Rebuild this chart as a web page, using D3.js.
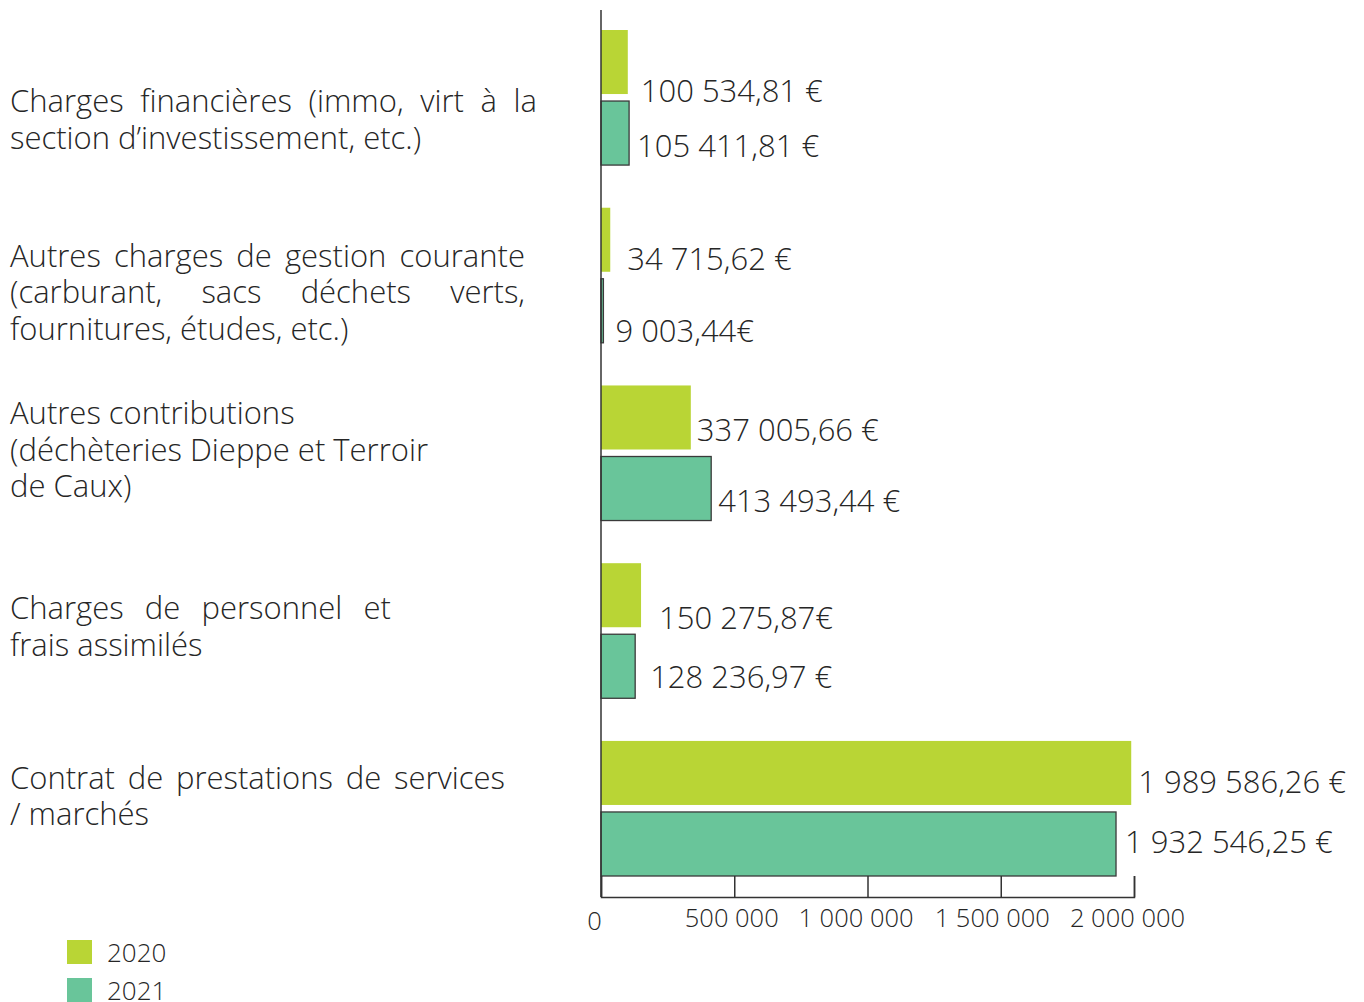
<!DOCTYPE html>
<html>
<head>
<meta charset="utf-8">
<script src="https://cdn.jsdelivr.net/npm/d3@7"></script>
<style>
  body { margin: 0; background: #fff; }
  text { font-family: "Open Sans", "Noto Sans", sans-serif; font-weight: 300; fill: #262626; }
</style>
</head>
<body>
<svg width="1364" height="1002"></svg>
<script>
// ~~~~~~ DATA ~~~~~~
var categories = [
  ["Charges financières (immo, virt à la", "section d’investissement, etc.)"],
  ["Autres charges de gestion courante", "(carburant, sacs déchets verts,", "fournitures, études, etc.)"],
  ["Autres contributions", "(déchèteries Dieppe et Terroir", "de Caux)"],
  ["Charges de personnel et", "frais assimilés"],
  ["Contrat de prestations de services", "/ marchés"]
];
var years = ["2020", "2021"];
var values2020 = [100534.81, 34715.62, 337005.66, 150275.87, 1989586.26];
var values2021 = [105411.81, 9003.44, 413493.44, 128236.97, 1932546.25];
var labels2020 = ["100 534,81 €", "34 715,62 €", "337 005,66 €", "150 275,87€", "1 989 586,26 €"];
var labels2021 = ["105 411,81 €", "9 003,44€", "413 493,44 €", "128 236,97 €", "1 932 546,25 €"];
var xTicks = [0, 500000, 1000000, 1500000, 2000000];

// ~~~~~~ LAYOUT ~~~~~~
var colors = {"2020": "#b9d535", "2021": "#69c59a"};
// label baseline offset from the top of each group band
var catBaseline = [82, 59, 39, 56, 48];
// right edge that a category line is justified to (null = natural)
var justifyTo = [[537], [525, 525], [null, null], [391], [505]];
// value label nudges [dx from bar end, dy from bar top]
var nudge2020 = [[13, 72], [17, 62], [6, 56], [18, 66], [7, 52]];
var nudge2021 = [[8, 56], [12, 63], [7, 56], [15, 54], [9, 41]];
var tickDx = [-7, -3, -12, -9, -7];

var svg = d3.select("svg");
var fr = d3.formatLocale({decimal: ",", thousands: "\u00a0", grouping: [3], currency: ["", "€"]});

// ~~~~~~ SCALES ~~~~~~
var x = d3.scaleLinear().domain([0, 2000000]).range([601, 1134]);
var y = d3.scaleBand().domain(d3.range(categories.length)).range([30, 876]).paddingInner(0.24).paddingOuter(0).align(0);
var ySub = d3.scaleBand().domain(years).range([0, y.bandwidth()]).paddingInner(0.0986);

var rows = categories.map(function(c, i) {
  return {i: i, lines: c, v: {"2020": values2020[i], "2021": values2021[i]},
          l: {"2020": labels2020[i], "2021": labels2021[i]},
          n: {"2020": nudge2020[i], "2021": nudge2021[i]}};
});

// ~~~~~~ BARS ~~~~~~
var g = svg.selectAll(".grp").data(rows).enter().append("g")
  .attr("class", "grp")
  .attr("transform", function(d) { return "translate(0," + y(d.i) + ")"; });

years.forEach(function(yr) {
  g.append("rect")
    .attr("x", x(0))
    .attr("y", ySub(yr))
    .attr("width", function(d) { return x(d.v[yr]) - x(0); })
    .attr("height", ySub.bandwidth())
    .attr("fill", colors[yr])
    .attr("stroke", yr === "2021" ? "#3a3a3a" : "none")
    .attr("stroke-width", 1.3);

  g.append("text")
    .attr("x", function(d) { return x(d.v[yr]) + d.n[yr][0]; })
    .attr("y", function(d) { return ySub(yr) + d.n[yr][1]; })
    .style("font-size", "31px")
    .text(function(d) { return d.l[yr]; });
});

// ~~~~~~ AXES ~~~~~~
svg.append("line")
  .attr("x1", x(0)).attr("x2", x(0))
  .attr("y1", 10).attr("y2", 897)
  .attr("stroke", "#333").attr("stroke-width", 1.5);

var xAxis = svg.append("g")
  .attr("transform", "translate(0,897)")
  .call(d3.axisBottom(x).tickValues(xTicks).tickSizeInner(-21).tickSizeOuter(-21)
    .tickFormat(function(d) { return fr.format(",")(d); }));
xAxis.attr("font-family", null).attr("font-size", null);
xAxis.select(".domain").attr("stroke", "#333").attr("stroke-width", 1.5);
xAxis.selectAll(".tick line").attr("stroke", "#333").attr("stroke-width", 1.5);
xAxis.selectAll(".tick text")
  .attr("y", 30)
  .attr("dy", function(d, i) { return i === 0 ? "3px" : "0"; })
  .attr("dx", function(d, i) { return tickDx[i]; })
  .attr("fill", null)
  .style("font-size", "25.5px");

// ~~~~~~ CATEGORY LABELS (justified) ~~~~~~
rows.forEach(function(d) {
  var top = y(d.i) + catBaseline[d.i];
  d.lines.forEach(function(line, li) {
    var ly = top + li * 36.5;
    var right = justifyTo[d.i][li];
    if (right === undefined || right === null) {
      svg.append("text").attr("x", 10).attr("y", ly).style("font-size", "31px").text(line);
      return;
    }
    var words = line.split(" ");
    var nodes = words.map(function(w) {
      return svg.append("text").attr("y", ly).style("font-size", "31px").text(w);
    });
    var widths = nodes.map(function(n) { return n.node().getComputedTextLength(); });
    var gap = words.length > 1 ? ((right - 10) - d3.sum(widths)) / (words.length - 1) : 0;
    var cx = 10;
    nodes.forEach(function(n, k) {
      n.attr("x", cx);
      cx += widths[k] + gap;
    });
  });
});

// ~~~~~~ LEGEND ~~~~~~
var legend = svg.selectAll(".leg").data(years).enter().append("g")
  .attr("class", "leg")
  .attr("transform", function(d, i) { return "translate(67," + (940 + i * 38) + ")"; });
legend.append("rect").attr("width", 25).attr("height", 24)
  .attr("fill", function(d) { return colors[d]; });
legend.append("text").attr("x", 40).attr("y", 22)
  .style("font-size", "26px")
  .text(function(d) { return d; });
</script>
</body>
</html>
